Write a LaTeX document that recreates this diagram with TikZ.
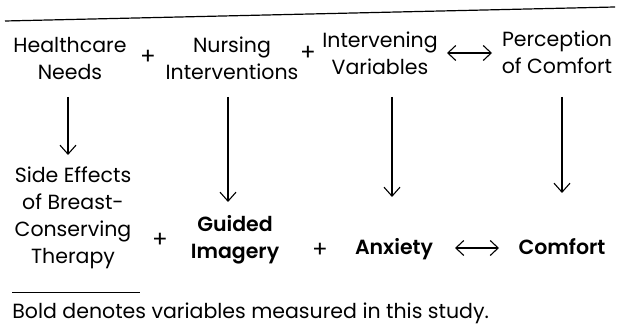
\documentclass[tikz,border=0pt]{standalone}
\usepackage{fontspec}
\setmainfont{Poppins}
\newfontfamily\semibold{Poppins SemiBold}
\usetikzlibrary{arrows.meta}

\begin{document}
\begin{tikzpicture}[x=1pt, y=1pt, thick]

		\tikzstyle{concept}=[align=center, inner sep=1pt, font=\fontsize{20.5}{27}\selectfont]
		\tikzstyle{measured}=[align=center, inner sep=1pt, font=\fontsize{20.5}{27}\semibold]
		\tikzstyle{plus}=[inner sep=0pt, font=\fontsize{23}{23}\selectfont]
		\tikzstyle{down}=[-{Straight Barb[length=9pt, width=16pt]}, line width=1.1pt]
		\tikzstyle{both}=[{Straight Barb[length=8pt, width=15pt]}-{Straight Barb[length=8pt, width=15pt]}, line width=1.1pt]

		\useasboundingbox (0,0) rectangle (620,326);

		% Top row: concepts
		\node[concept] (hn) at (70,267)  {Healthcare\\Needs};
		\node[plus]    (p1) at (148,269) {+};
		\node[concept] (ni) at (232,268) {Nursing\\Interventions};
		\node[plus]    (p2) at (308,273) {+};
		\node[concept] (iv) at (380,273) {Intervening\\Variables};
		\node[concept] (pc) at (557,274) {Perception\\of Comfort};

		% Bottom row: study variables
		\node[concept]  (se) at (73,108) {Side Effects\\of Breast-\\Conserving\\Therapy};
		\node[plus]     (p3) at (160,86) {+};
		\node[measured] (gi) at (235,86) {Guided\\Imagery};
		\node[plus]     (p4) at (320,76) {+};
		\node[measured] (anx) at (394,77) {Anxiety};
		\node[measured] (cf) at (562,79) {Comfort};

		% Links
		\draw[both] ([xshift=67pt]iv.center) -- ([shift={(-65,-1)}]pc.center);
		\draw[both] ([shift={(61,1)}]anx.center) -- ([shift={(-63,-1)}]cf.center);

		\draw[down] ([shift={(-2,-38)}]hn.center) -- ([shift={(-5,63)}]se.center);
		\draw[down] ([shift={(-4,-39)}]ni.center) -- ([shift={(-7,38)}]gi.center);
		\draw[down] ([shift={(12,-44)}]iv.center) -- ([shift={(-2,52)}]anx.center);
		\draw[down] ([shift={(5,-45)}]pc.center) -- ([shift={(0,54)}]cf.center);

		% Rules and footnote
		\draw[line width=1.2pt] (5,305) -- (615,319);
		\draw[line width=0.9pt] (12,34) -- (140,34);
		\node[concept, anchor=west, inner sep=0pt] (note) at (12,13) {Bold denotes variables measured in this study.};

\end{tikzpicture}
\end{document}
